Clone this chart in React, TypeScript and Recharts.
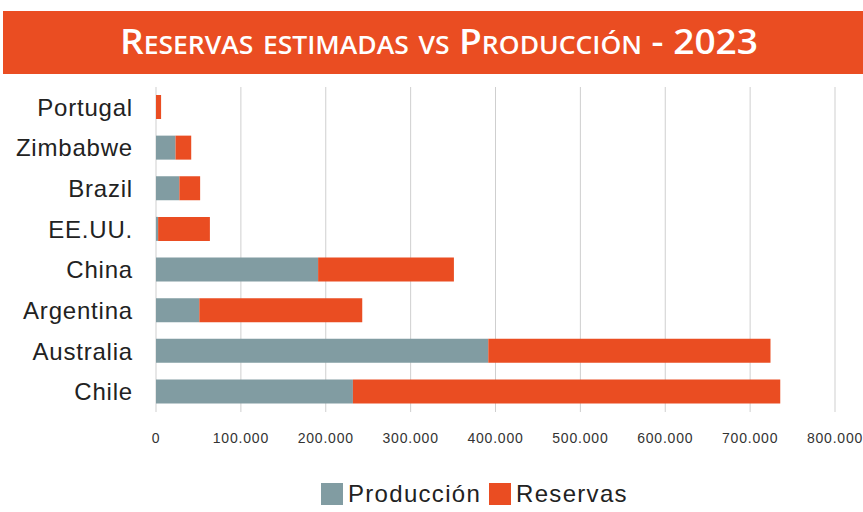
import { BarChart, Bar, XAxis, YAxis, CartesianGrid, Legend } from "recharts";

const countries = ["Portugal", "Zimbabwe", "Brazil", "EE.UU.", "China", "Argentina", "Australia", "Chile"];
const produccion = [0, 23000, 27500, 2500, 191000, 51000, 391500, 232000];
const reservas = [6000, 18500, 24500, 61000, 160000, 192000, 332500, 503500];
const xTicks = [0, 100000, 200000, 300000, 400000, 500000, 600000, 700000, 800000];

const GREY = "#819ca2";
const ORANGE = "#ea4d22";

const data = countries.map((name, i) => ({
  name,
  produccion: produccion[i],
  reservas: reservas[i],
}));

const fmt = (v: number) => String(v).replace(/\B(?=(\d{3})+(?!\d))/g, ".");

const legendItems = [
  { label: "Producción", color: GREY },
  { label: "Reservas", color: ORANGE },
];

const renderLegend = () => (
  <div style={{ display: "flex", alignItems: "center", paddingLeft: 321, height: 36 }}>
    {legendItems.map((it) => (
      <div key={it.label} style={{ display: "flex", alignItems: "center", marginRight: 8 }}>
        <div style={{ width: 22, height: 22, background: it.color, marginRight: 5 }} />
        <span style={{ fontFamily: "Liberation Sans", fontSize: 24, letterSpacing: 1.3, color: "#222" }}>
          {it.label}
        </span>
      </div>
    ))}
  </div>
);

const App = () => {
  return (
    <div style={{ position: "absolute", left: 0, top: 0, width: 863, height: 512, background: "#fff" }}>
      <svg width={863} height={80} style={{ position: "absolute", left: 0, top: 0 }}>
        <rect x={3} y={11} width={860} height={63} fill={ORANGE} />
        <text
          x={439}
          y={54}
          textAnchor="middle"
          fill="#fff"
          fontFamily="Open Sans"
          fontWeight={600}
          fontSize={35}
          style={{ fontVariant: "small-caps" }}
          textLength={638}
          lengthAdjust="spacingAndGlyphs"
        >
          Reservas estimadas vs Producción - 2023
        </text>
      </svg>
      <div style={{ position: "absolute", left: 0, top: 0 }}>
        <BarChart
          width={863}
          height={512}
          data={data}
          layout="vertical"
          margin={{ top: 87, right: 28, left: 0, bottom: 0 }}
          barSize={24}
        >
          <CartesianGrid horizontal={false} stroke="#cfcfcf" />
          <XAxis
            type="number"
            domain={[0, 800000]}
            ticks={xTicks}
            tickFormatter={fmt}
            axisLine={false}
            tickLine={false}
            tickSize={0}
            tickMargin={21}
            height={64}
            interval={0}
            tick={{ fontFamily: "Liberation Sans", fontSize: 14, letterSpacing: 0.8, fill: "#333" }}
          />
          <YAxis
            type="category"
            dataKey="name"
            width={156}
            axisLine={false}
            tickLine={false}
            tickSize={0}
            tickMargin={23}
            interval={0}
            tick={{ fontFamily: "Liberation Sans", fontSize: 24, letterSpacing: 0.8, fill: "#222" }}
          />
          <Legend verticalAlign="bottom" height={36} content={renderLegend} />
          <Bar dataKey="produccion" name="Producción" stackId="a" fill={GREY} isAnimationActive={false} />
          <Bar dataKey="reservas" name="Reservas" stackId="a" fill={ORANGE} isAnimationActive={false} />
        </BarChart>
      </div>
    </div>
  );
};

export default App;
